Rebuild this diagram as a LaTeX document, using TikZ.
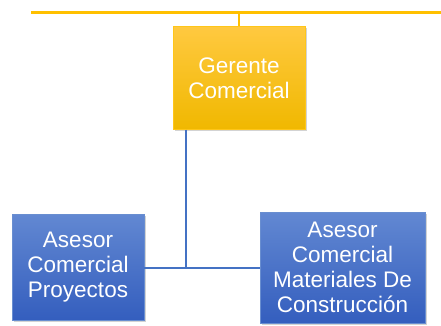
\documentclass[tikz,border=0pt]{standalone}
\usepackage{fontspec}
\setmainfont{Liberation Sans}
\usepackage{tikz}
\usetikzlibrary{positioning,calc,shadows}
\definecolor{jefeyellow}{RGB}{255, 192, 0}
\definecolor{jefetop}{RGB}{255, 201, 64}
\definecolor{jefebottom}{RGB}{240, 184, 0}
\definecolor{asesorblue}{RGB}{68, 114, 196}
\definecolor{asesortop}{RGB}{98, 136, 210}
\definecolor{asesorbottom}{RGB}{52, 94, 190}

\begin{document}
\begin{tikzpicture}[
    x=1pt, y=-1pt,
    cargo/.style={rectangle, align=center, text=white, inner sep=0pt,
        font=\fontsize{22.5}{25}\selectfont,
        drop shadow={shadow xshift=1.5pt, shadow yshift=-1.5pt, opacity=0.35}},
    jefe/.style={cargo, top color=jefetop, bottom color=jefebottom, draw=jefeyellow!90!white, line width=0.4pt},
    asesor/.style={cargo, top color=asesortop, bottom color=asesorbottom, draw=asesorblue!80!white, line width=0.4pt},
    rama/.style={line width=3pt, jefeyellow},
    enlace/.style={line width=1.8pt, asesorblue}
]
\useasboundingbox (0,0) rectangle (441,325);

% Upper branch
\coordinate (ramaL) at (31,12);
\coordinate (ramaR) at (441,12);
\coordinate (ramaC) at (239,12);

% Manager
\node[jefe, minimum width=132pt, minimum height=103pt] (ger) at (239,78) {Gerente\\Comercial};

% Advisors
\node[asesor, minimum width=132pt, minimum height=106pt] (aproy) at (78,267) {Asesor\\Comercial\\Proyectos};
\node[asesor, minimum width=165pt, minimum height=111pt] (amat) at (342.5,267.5) {Asesor\\Comercial\\Materiales De\\Construcción};

% Connectors
\draw[rama] (ramaL) -- (ramaR);
\draw[line width=1.8pt, jefeyellow] (ramaC) -- (ger.north);
\coordinate (nudo) at (186,268);
\draw[enlace] (nudo |- ger.south) -- (nudo);
\draw[enlace] (aproy.east |- nudo) -- (amat.west |- nudo);

\end{tikzpicture}
\end{document}
